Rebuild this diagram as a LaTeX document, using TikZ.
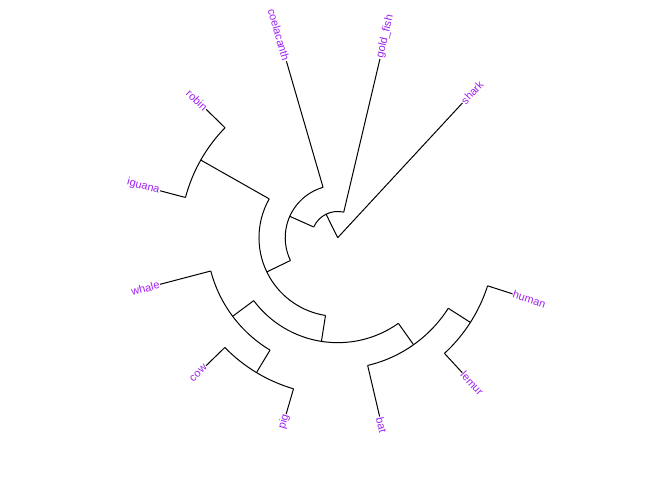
\documentclass[tikz,border=0pt]{standalone}
\usepackage{fontspec}
\setmainfont{Liberation Sans}
\definecolor{tiplab}{HTML}{A020F0}
\begin{document}
\begin{tikzpicture}[x=1pt,y=1pt,
  edge/.style={line width=1pt, draw=black},
  labr/.style={text=tiplab, font=\fontsize{11}{13}\selectfont, inner xsep=0.6pt, inner ysep=0pt, anchor=west},
  labl/.style={text=tiplab, font=\fontsize{11}{13}\selectfont, inner xsep=0.6pt, inner ysep=0pt, anchor=east}]
\useasboundingbox (-337.7,-242.3) rectangle (334.3,237.7);
\def\U{26.24}
\coordinate (root) at (0,0);
% name / angle / parent depth / depth
\foreach \n/\a/\p/\d in {
  shark/47.2/0/7, A/116.34/0/1, gold/76.7/1/7, B/155.98/1/2,
  coel/106.2/2/7, C/205.76/2/3, D/150.45/3/6, robin/135.7/6/7,
  iguana/165.2/6/7, E/261.08/3/4, F/216.83/4/5, whale/194.7/5/7,
  H/238.95/5/6, cow/224.2/6/7, pig/253.7/6/7, G/305.33/4/5,
  bat/283.2/5/7, I/327.45/5/6, lemur/312.7/6/7, human/342.2/6/7}{
  \coordinate (\n-base) at (\a:{\p*\U});
  \coordinate (\n) at (\a:{\d*\U});
  \draw[edge] (\n-base) -- (\n);
}
% arcs of internal nodes: first child angle / last child angle / depth
\foreach \s/\e/\d in {76.7/155.98/1, 106.2/205.76/2, 150.45/261.08/3,
  135.7/165.2/6, 216.83/305.33/4, 194.7/238.95/5, 224.2/253.7/6,
  283.2/327.45/5, 312.7/342.2/6}{
  \draw[edge] (\s:{\d*\U}) arc[start angle=\s, end angle=\e, radius={\d*\U}];
}
% tip labels
\node[labr, rotate=47.2] (shark-lab) at (shark) {shark};
\node[labr, rotate=76.7] (gold-lab) at (gold) {gold\_fish};
\node[labl, rotate=-73.8] (coel-lab) at (coel) {coelacanth};
\node[labl, rotate=-44.3] (robin-lab) at (robin) {robin};
\node[labl, rotate=-14.8] (iguana-lab) at (iguana) {iguana};
\node[labl, rotate=14.7] (whale-lab) at (whale) {whale};
\node[labl, rotate=44.2] (cow-lab) at (cow) {cow};
\node[labl, rotate=73.7] (pig-lab) at (pig) {pig};
\node[labr, rotate=283.2] (bat-lab) at (bat) {bat};
\node[labr, rotate=312.7] (lemur-lab) at (lemur) {lemur};
\node[labr, rotate=342.2] (human-lab) at (human) {human};
\end{tikzpicture}
\end{document}
